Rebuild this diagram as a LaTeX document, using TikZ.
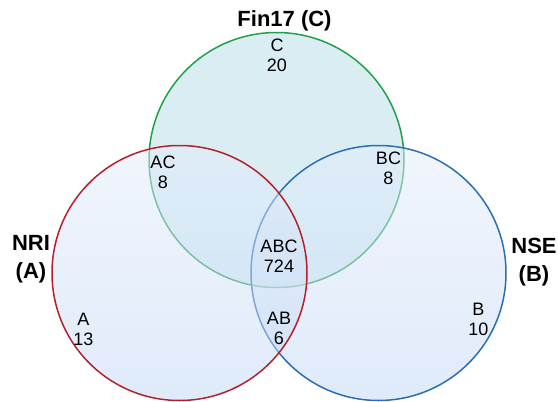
\documentclass[tikz,border=0pt]{standalone}
\usepackage{fontspec}
\setmainfont{Liberation Sans}
\begin{document}
\begin{tikzpicture}[x=1pt,y=-1pt,
  ring/.style={line width=1.5pt},
  setfill/.style={top color=setTop,bottom color=setBot,fill opacity=0.5},
  cnt/.style={align=center,inner sep=0pt,font=\fontsize{18}{20}\selectfont},
  title/.style={align=center,inner sep=0pt,font=\fontsize{22}{28}\selectfont\bfseries}]
\definecolor{ringC}{HTML}{22A04B}
\definecolor{ringA}{HTML}{B3222B}
\definecolor{ringB}{HTML}{2A6FB5}
\definecolor{fillC}{HTML}{B5DCE8}
\definecolor{setTop}{HTML}{E4EDFB}
\definecolor{setBot}{HTML}{C0D6F5}
\useasboundingbox (0,0) rectangle (558,402);
% set C (top)
\fill[fillC,fill opacity=0.5] (276.5,160) circle[radius=127.5];
\draw[ring,ringC] (276.5,160) circle[radius=127.5];
% set B (right)
\shade[setfill] (378.5,273) circle[radius=127.5];
\draw[ring,ringB] (378.5,273) circle[radius=127.5];
% set A (left)
\shade[setfill] (179.5,273) circle[radius=127.5];
\draw[ring,ringA] (179.5,273) circle[radius=127.5];
% region counts
\node[cnt] (c)   at (277,55.5)  {C\\20};
\node[cnt] (ac)  at (163,172)   {AC\\8};
\node[cnt] (bc)  at (388.5,168.5) {BC\\8};
\node[cnt] (abc) at (279,256)   {ABC\\724};
\node[cnt] (ab)  at (279,328)   {AB\\6};
\node[cnt] (a)   at (83.5,329.5) {A\\13};
\node[cnt] (b)   at (478.5,319.5) {B\\10};
% set names
\node[title] (nameC) at (284.5,21) {Fin17 (C)};
\node[title] (nameA) at (31,259)   {NRI\\(A)};
\node[title] (nameB) at (534,262.5) {NSE\\(B)};
\end{tikzpicture}
\end{document}
